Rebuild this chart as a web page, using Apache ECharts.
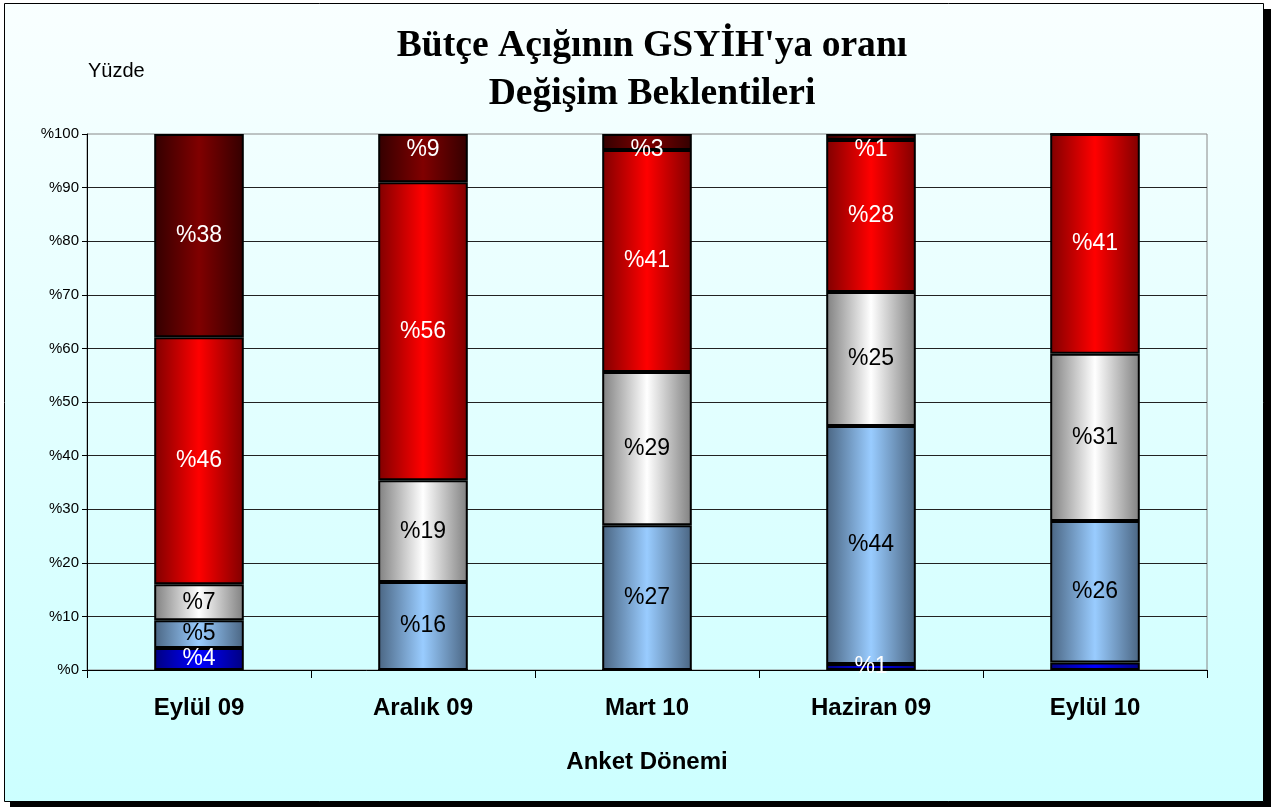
<!DOCTYPE html>
<html>
<head>
<meta charset="utf-8">
<script src="https://cdn.jsdelivr.net/npm/echarts@6/dist/echarts.min.js"></script>
<style>
  html, body { margin: 0; padding: 0; background: #fff; }
  #butceChart { width: 1271px; height: 807px; }
</style>
</head>
<body>
<div id="butceChart"></div>
<script>
  // anket dönemleri
  var categories = ['Eylül 09', 'Aralık 09', 'Mart 10', 'Haziran 09', 'Eylül 10'];
  // yüzde payları, alttan üste
  var koyuMavi = [4.1, 0, 0, 1.1, 1.4];
  var acikMavi = [5.2, 16.4, 27.0, 44.4, 26.4];
  var gri = [6.7, 19.0, 28.6, 25.0, 31.2];
  var kirmizi = [46.1, 55.6, 41.4, 28.4, 41.0];
  var koyuKirmizi = [37.9, 9.0, 3.0, 1.1, 0];
  var yTicks = [0, 10, 20, 30, 40, 50, 60, 70, 80, 90, 100];

  var chart = echarts.init(document.getElementById('butceChart'));

  function grad(edge, center) {
    return new echarts.graphic.LinearGradient(0, 0, 1, 0, [
      { offset: 0, color: edge },
      { offset: 0.5, color: center },
      { offset: 1, color: edge }
    ]);
  }

  function makeSeries(name, values, edge, center, textColor, opts) {
    opts = opts || {};
    return {
      name: name,
      type: 'bar',
      stack: 'toplam',
      barWidth: '40%',
      itemStyle: {
        color: grad(edge, center),
        borderColor: '#000',
        borderWidth: 2
      },
      label: {
        show: true,
        position: 'inside',
        color: textColor,
        fontFamily: 'Liberation Sans, Arial',
        fontSize: 23,
        formatter: function (p) {
          if (!p.value) return '';
          return '%' + Math.round(p.value);
        }
      },
      data: values.map(function (v, i) {
        var item = { value: v };
        if (opts.hide && opts.hide.indexOf(i) >= 0) {
          item.label = { show: false };
        }
        if (opts.topSmall && v < 10) {
          item.label = { position: 'insideTop', distance: 4 };
        }
        return item;
      })
    };
  }

  var option = {
    animation: false,
    textStyle: { fontFamily: 'Liberation Sans, Arial' },
    graphic: [
      {
        type: 'rect',
        z: -10,
        silent: true,
        shape: { x: 10, y: 9, width: 1261, height: 798 },
        style: { fill: '#000' }
      },
      {
        type: 'rect',
        z: -9,
        silent: true,
        shape: { x: 4.5, y: 3.5, width: 1259, height: 798 },
        style: {
          fill: new echarts.graphic.LinearGradient(0, 0, 0, 1, [
            { offset: 0, color: '#f9ffff' },
            { offset: 1, color: '#ccffff' }
          ]),
          stroke: '#000',
          lineWidth: 1
        }
      },
      {
        type: 'text',
        left: 88,
        top: 61,
        style: {
          text: 'Yüzde',
          font: '20px "Liberation Sans", Arial',
          fill: '#000'
        }
      }
    ],
    title: {
      text: "Bütçe Açığının GSYİH'ya oranı\nDeğişim Beklentileri",
      left: 647,
      top: 17,
      textAlign: 'center',
      textStyle: {
        fontFamily: 'Liberation Serif, Times New Roman',
        fontWeight: 'bold',
        fontSize: 37.6,
        lineHeight: 48,
        color: '#000'
      }
    },
    grid: {
      left: 87,
      right: 64,
      top: 134,
      bottom: 137,
      show: true,
      backgroundColor: 'transparent',
      borderColor: '#888',
      borderWidth: 1
    },
    xAxis: {
      type: 'category',
      data: categories,
      name: 'Anket Dönemi',
      nameLocation: 'middle',
      nameGap: 80,
      nameTextStyle: {
        fontFamily: 'Liberation Sans, Arial',
        fontWeight: 'bold',
        fontSize: 24,
        color: '#000'
      },
      axisLine: { lineStyle: { color: '#000', width: 1 } },
      axisTick: { show: true, length: 8, lineStyle: { color: '#000' } },
      axisLabel: {
        margin: 26,
        fontFamily: 'Liberation Sans, Arial',
        fontWeight: 'bold',
        fontSize: 24,
        color: '#000'
      }
    },
    yAxis: {
      type: 'value',
      min: yTicks[0],
      max: yTicks[yTicks.length - 1],
      interval: yTicks[1] - yTicks[0],
      axisLine: { show: true, lineStyle: { color: '#000', width: 1 } },
      axisTick: { show: true, length: 5, lineStyle: { color: '#000' } },
      axisLabel: {
        margin: 8,
        fontSize: 15,
        color: '#000',
        formatter: function (v) { return '%' + v; }
      },
      splitLine: {
        show: true,
        showMinLine: false,
        showMaxLine: false,
        lineStyle: { color: '#222', width: 1 }
      }
    },
    series: [
      makeSeries('Koyu mavi', koyuMavi, '#000080', '#0000ff', '#fff', { hide: [4] }),
      makeSeries('Açık mavi', acikMavi, '#4a6582', '#99ccff', '#000'),
      makeSeries('Gri', gri, '#808080', '#ffffff', '#000'),
      makeSeries('Kırmızı', kirmizi, '#800000', '#ff0000', '#fff'),
      makeSeries('Koyu kırmızı', koyuKirmizi, '#330000', '#800000', '#fff', { topSmall: true })
    ]
  };

  chart.setOption(option);
</script>
</body>
</html>
